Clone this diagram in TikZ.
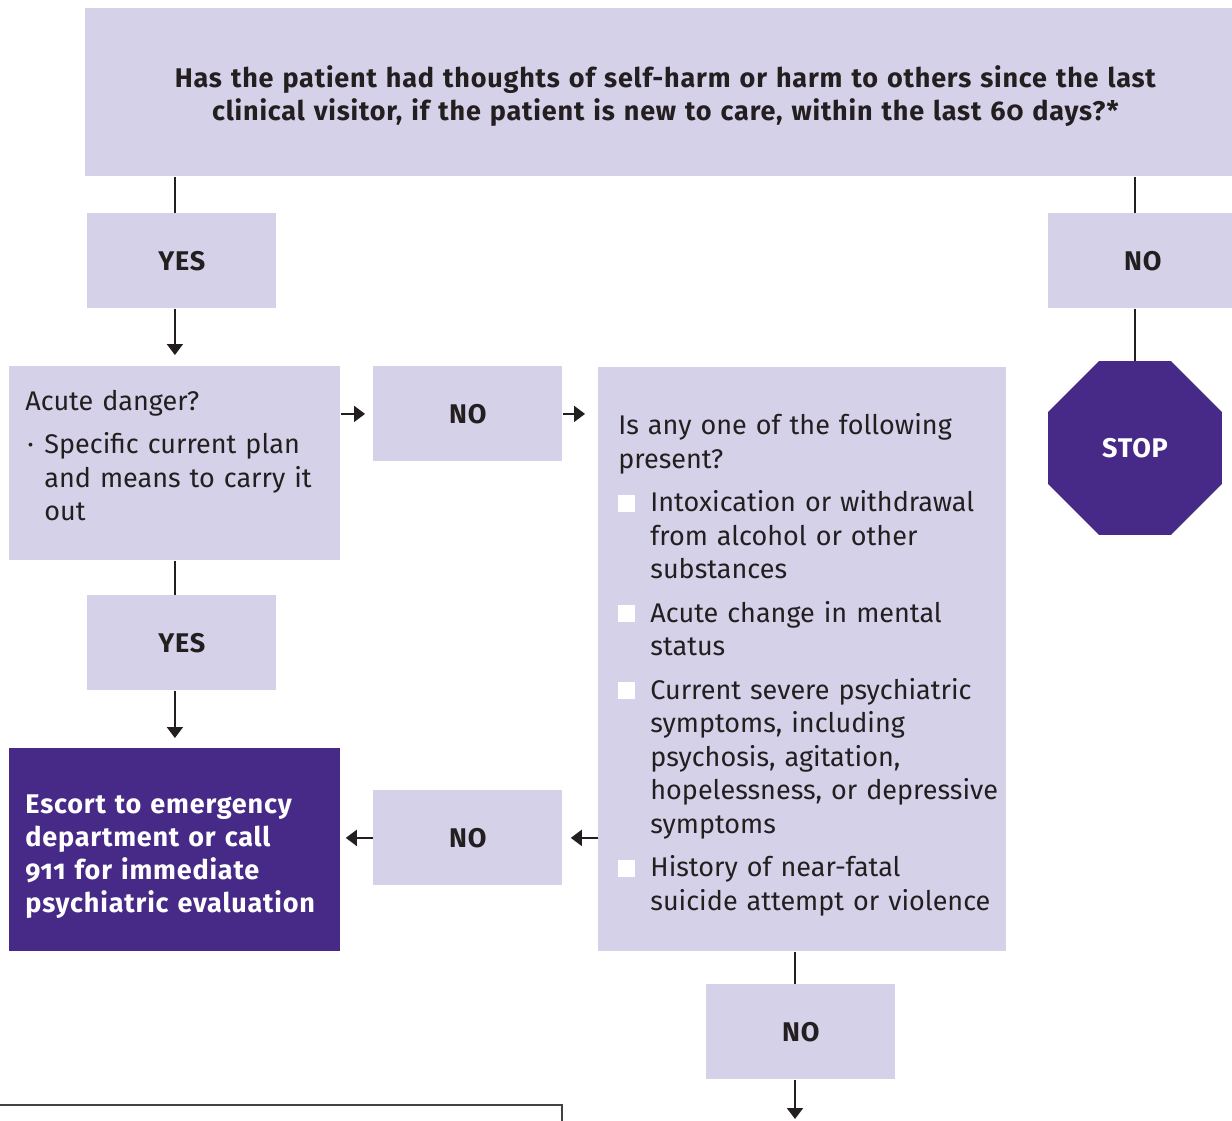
\documentclass[tikz,border=0pt]{standalone}
\usepackage{fontspec}
\setmainfont{Fira Sans}[Numbers=OldStyle, BoldFeatures={LetterSpace=3}]
\usetikzlibrary{arrows.meta,shapes.geometric,positioning}

\definecolor{lavender}{HTML}{D5D1E8}
\definecolor{deeppurple}{HTML}{472A87}
\definecolor{ink}{HTML}{231F20}

\newcommand{\tickbox}{\textcolor{white}{\rule{8.5pt}{8.5pt}}}
\newcommand{\checkitem}[1]{\par\vspace{5pt}\hangindent=16pt\hangafter=1\noindent\makebox[16pt][l]{\tickbox}#1}
\newcommand{\toppad}[1]{\rule{0pt}{#1}}
\newcommand{\nohyph}{\hyphenpenalty=10000\relax\exhyphenpenalty=10000\relax\hfuzz=20pt\relax}

\tikzset{
  answer/.style={fill=lavender, anchor=north west, minimum width=94.5pt, minimum height=47.5pt,
    inner sep=0pt, text=ink, font=\bfseries\fontsize{13.5}{16.75}\selectfont},
  panel/.style={fill=lavender, anchor=north west, inner ysep=0pt, align=left, text=ink,
    font=\fontsize{13.5}{16.75}\selectfont},
  flow/.style={draw=ink, line width=1pt, -{Triangle[width=8pt,length=5.5pt]}},
  link/.style={draw=ink, line width=1pt},
}

\begin{document}
\begin{tikzpicture}[x=0.5pt,y=-0.5pt]
    \clip (0,0) rectangle (1232,1120);

    % question at the top
    \node[fill=lavender, anchor=north west, minimum width=580pt, minimum height=84pt, inner sep=0pt,
      text width=560pt, align=center, text=ink, font=\bfseries\fontsize{13.5}{16.5}\selectfont] (ask) at (85,8)
      {\toppad{15pt}Has the patient had thoughts of self-harm or harm to others since the last\\
       clinical visitor, if the patient is new to care, within the last 60 days?*};

    % left branch
    \node[answer] (yes1) at (87,213) {YES};
    \node[panel, minimum width=165.5pt, minimum height=97pt, text width=149.5pt, inner xsep=8pt] (danger) at (9,366)
      {Acute danger?\par\vspace{5pt}
       \hangindent=9.5pt\hangafter=1\noindent\makebox[9.5pt][l]{\hspace{1pt}·}Specific current plan\newline
       and means to carry it\newline out\par\vspace{8pt}};
    \node[answer] (yes2) at (87,595) {YES};
    \node[fill=deeppurple, anchor=north west, minimum width=165.5pt, minimum height=101.5pt, inner ysep=0pt,
      inner xsep=8pt, text width=149.5pt, align=left, text=white,
      font=\bfseries\fontsize{13.5}{16.5}\selectfont] (escort) at (9,748)
      {\toppad{16pt}Escort to emergency\\ department or call\\ 911 for immediate\\ psychiatric evaluation};

    % middle
    \node[answer] (no1) at (373,366) {NO};
    \node[answer] (no2) at (373,790) {NO};
    \node[panel, minimum width=204pt, minimum height=292pt, text width=184pt, inner xsep=10pt] (screen) at (598,367)
      {\nohyph\toppad{16pt}Is any one of the following\newline present?
       \checkitem{\mbox{Intoxication or withdrawal}\newline from alcohol or other\newline substances}
       \checkitem{Acute change in mental\newline status}
       \checkitem{\mbox{Current severe psychiatric}\newline symptoms, including\newline psychosis, agitation,\newline
         \mbox{hopelessness, or depressive}\newline symptoms}
       \checkitem{History of near-fatal\newline \mbox{suicide attempt or violence}}\par};
    \node[answer] (no4) at (706,984) {NO};

    % right branch
    \node[answer] (no3) at (1048,213) {NO};
    \node[regular polygon, regular polygon sides=8, fill=deeppurple, text=white, inner sep=0pt,
      minimum size=94pt, font=\bfseries\fontsize{13.5}{16}\selectfont] (stop) at (1135,448) {STOP};

    \coordinate (drop) at (795,1119);

    % connectors
    \draw[link] (danger.north |- ask.south) -- (danger.north |- yes1.north);
    \draw[flow, shorten >=5.5pt] (danger.north |- yes1.south) -- (danger.north);
    \draw[link] (danger.south) -- (danger.south |- yes2.north);
    \draw[flow, shorten >=5pt] (escort.north |- yes2.south) -- (escort.north);
    \draw[flow, shorten >=4pt] (danger.east |- no1.west) -- (no1.west);
    \draw[flow, shorten >=6.5pt] (no1.east) -- (screen.west |- no1.east);
    \draw[flow, shorten >=4pt] (screen.west |- no2.east) -- (no2.east);
    \draw[flow, shorten >=2.5pt] (no2.west) -- (escort.east |- no2.west);
    \draw[link] (stop.north |- ask.south) -- (stop.north |- no3.north);
    \draw[link] (stop.north |- no3.south) -- (stop.north);
    \draw[link] (drop |- screen.south) -- (drop |- no4.north);
    \draw[flow] (drop |- no4.south) -- (drop);

    % box cut off at the bottom
    \draw[draw=ink!85, line width=0.75pt] (-5,1105) -| (562,1130);
\end{tikzpicture}
\end{document}
